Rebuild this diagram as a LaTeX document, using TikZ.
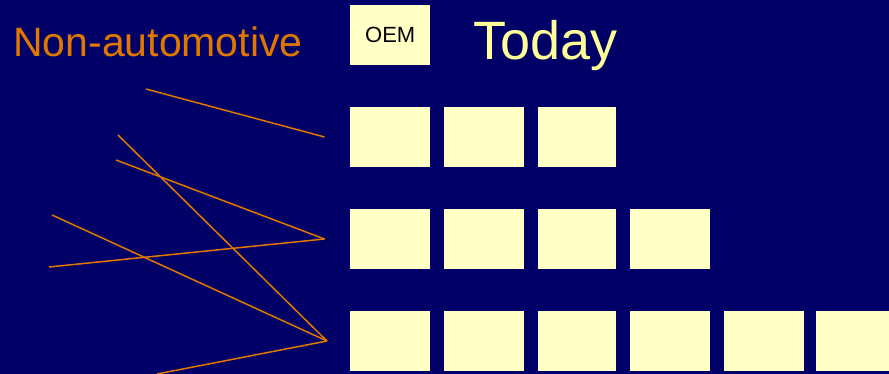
\documentclass[tikz,border=0pt]{standalone}
\usepackage{fontspec}
\setmainfont{Liberation Sans}
\definecolor{navy}{HTML}{000066}
\definecolor{pale}{HTML}{FFFFC6}
\definecolor{orng}{HTML}{E07800}
\definecolor{ttl}{HTML}{FFFF99}
\begin{document}
\begin{tikzpicture}[x=1pt,y=-1pt,
  box/.style={fill=pale,draw=none,minimum width=80pt,minimum height=60pt,inner sep=0pt,anchor=north west,font=\fontsize{22}{22}\selectfont,text=black},
  link/.style={draw=orng,line width=1.5pt}]
\fill[navy] (0,0) rectangle (889,374);
\useasboundingbox (0,0) rectangle (889,374);
\node[anchor=base west,inner sep=0pt,text=orng,font=\fontsize{41}{41}\selectfont] (na) at (13,56.7) {Non-automotive};
\node[anchor=base west,inner sep=0pt,text=ttl,font=\fontsize{54}{54}\selectfont] (today) at (473,60) {Today};
\node[box] (oem) at (350,5) {OEM};
% row 1
\node[box] (a1) at (350,107) {};
\node[box] (a2) at (444,107) {};
\node[box,minimum width=78pt] (a3) at (538,107) {};
% row 2
\node[box] (b1) at (350,209) {};
\node[box] (b2) at (444,209) {};
\node[box,minimum width=78pt] (b3) at (538,209) {};
\node[box] (b4) at (630,209) {};
% row 3
\node[box] (c1) at (350,311) {};
\node[box] (c2) at (444,311) {};
\node[box,minimum width=78pt] (c3) at (538,311) {};
\node[box] (c4) at (630,311) {};
\node[box] (c5) at (724,311) {};
\node[box] (c6) at (816,311) {};
% connector end points
\coordinate (t1) at (324.5,137);
\coordinate (t2) at (324.5,239);
\coordinate (t3) at (327,341);
\coordinate (s1) at (146,89);
\coordinate (s2) at (118,135);
\coordinate (s3) at (116,160);
\coordinate (s4) at (49,267);
\coordinate (s5) at (52,215);
\coordinate (s6) at (157,374);
\draw[link] (s1) -- (t1);
\draw[link] (s2) -- (t3);
\draw[link] (s3) -- (t2);
\draw[link] (s4) -- (t2);
\draw[link] (s5) -- (t3);
\draw[link] (s6) -- (t3);
\end{tikzpicture}
\end{document}
